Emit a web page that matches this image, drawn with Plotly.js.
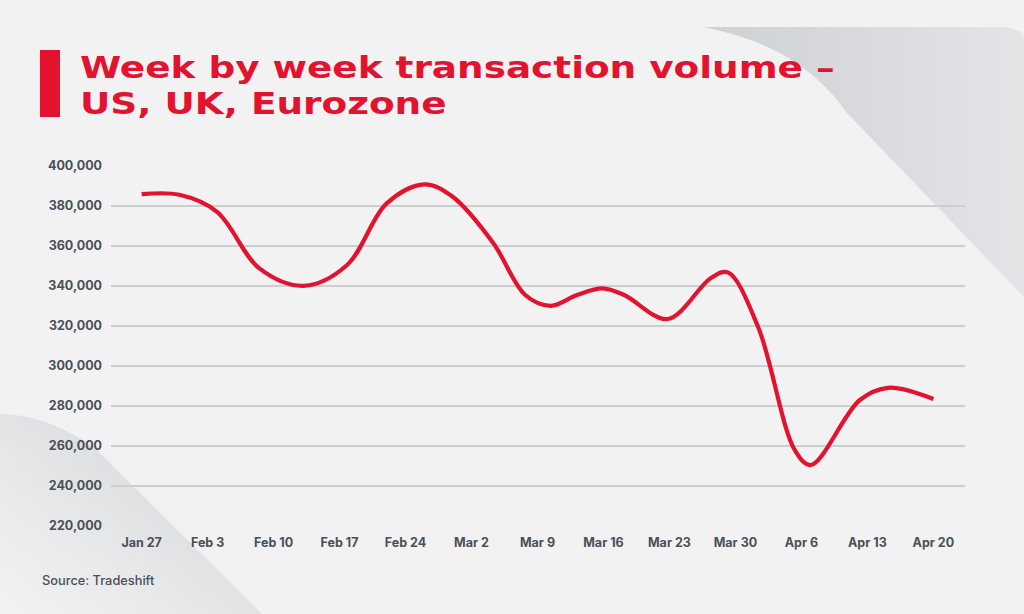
<!DOCTYPE html>
<html>
<head>
<meta charset="utf-8">
<script src="https://cdn.plot.ly/plotly-3.0.1.min.js"></script>
<style>
  html, body { margin: 0; padding: 0; background: #f1f2f1; }
  #wrap { position: relative; width: 1024px; height: 614px; overflow: hidden; }
  #bg { position: absolute; left: 0; top: 0; }
  #chart { position: absolute; left: 0; top: 0; width: 1024px; height: 614px; }
</style>
</head>
<body>
<div id="wrap">
  <svg id="bg" width="1024" height="614" viewBox="0 0 1024 614">
    <defs>
      <linearGradient id="gTR" x1="0" y1="0" x2="1" y2="0">
        <stop offset="0" stop-color="#cdd0d5"/>
        <stop offset="1" stop-color="#e3e4e6"/>
      </linearGradient>
      <linearGradient id="gBL" x1="1" y1="0" x2="0" y2="1">
        <stop offset="0" stop-color="#d0d2d7"/>
        <stop offset="0.7" stop-color="#e9eaeb"/>
        <stop offset="1" stop-color="#f1f2f1"/>
      </linearGradient>
    </defs>
    <path d="M703 27 L995 27 Q1024 27 1024 40 L1024 297 L847 113 Q800 45 703 27 Z" fill="url(#gTR)"/>
    <path d="M0 414 Q40 414 83 440 Q100 452 110 463 L262 614 L0 614 Z" fill="url(#gBL)"/>
  </svg>
  <div id="chart"></div>
</div>
<script>
// Days since Jan 27 and transaction volume
var days = [0, 4, 8, 12.5, 17.2, 21.8, 26, 30, 33, 37.3, 40.7, 43.4, 46.2, 48.9, 51.2, 55.8, 60.4, 62.2, 65.4, 69.3, 71, 76.2, 79.2, 84];
var volume = [385900, 385600, 377100, 348800, 340100, 350500, 381300, 390800, 384600, 361500, 335500, 330100, 335500, 338800, 335500, 323500, 344000, 346800, 319600, 258000, 250500, 283000, 289100, 283500];

var tickDays = [0, 7, 14, 21, 28, 35, 42, 49, 56, 63, 70, 77, 84];
var tickLabels = ["Jan 27", "Feb 3", "Feb 10", "Feb 17", "Feb 24", "Mar 2", "Mar 9", "Mar 16", "Mar 23", "Mar 30", "Apr 6", "Apr 13", "Apr 20"];
var yTicks = [220000, 240000, 260000, 280000, 300000, 320000, 340000, 360000, 380000, 400000];
var yLabels = ["220,000", "240,000", "260,000", "280,000", "300,000", "320,000", "340,000", "360,000", "380,000", "400,000"];

var titleText = "Week by week transaction volume –<br>US, UK, Eurozone";
var sourceText = "Source: Tradeshift";

var red = "#e3122f";
var tickFont = {family: "Inter, 'Open Sans', sans-serif", size: 12.5, color: "#4a4f58", weight: 700};

var trace = {
  x: days,
  y: volume,
  type: "scatter",
  mode: "lines",
  line: {color: red, width: 4.2, shape: "spline", smoothing: 1},
  hoverinfo: "skip"
};

var layout = {
  width: 1024,
  height: 614,
  paper_bgcolor: "rgba(0,0,0,0)",
  plot_bgcolor: "rgba(0,0,0,0)",
  margin: {l: 111, r: 59, t: 165, b: 87},
  showlegend: false,
  title: {
    text: titleText,
    font: {family: "'DejaVu Sans', sans-serif", size: 30, color: red, weight: 700},
    xref: "container", yref: "container",
    x: 80 / 1024, xanchor: "left",
    y: 1 - 78 / 614, yanchor: "top"
  },
  xaxis: {
    type: "linear",
    range: [-3.25, 87.36],
    tickmode: "array",
    tickvals: tickDays,
    ticktext: tickLabels,
    showgrid: false,
    zeroline: false,
    showline: false,
    ticks: "",
    ticklabelstandoff: 6,
    tickfont: tickFont,
    fixedrange: true
  },
  yaxis: {
    range: [219500, 400500],
    tickmode: "array",
    tickvals: yTicks,
    ticktext: yLabels,
    showgrid: true,
    gridcolor: "#cdcecf",
    gridwidth: 1.5,
    zeroline: false,
    showline: false,
    ticks: "",
    ticklabelstandoff: 8,
    tickfont: tickFont,
    fixedrange: true
  },
  shapes: [
    {type: "rect", xref: "paper", yref: "paper",
     x0: (40 - 111) / 854, x1: (60 - 111) / 854,
     y0: (527 - 117) / 362, y1: (527 - 50) / 362,
     fillcolor: red, line: {width: 0}, layer: "above"}
  ],
  annotations: [
    {text: sourceText, xref: "paper", yref: "paper",
     x: (40 - 111) / 854, xanchor: "left",
     y: (527 - 580) / 362, yanchor: "middle",
     showarrow: false,
     font: {family: "Inter, 'Open Sans', sans-serif", size: 12.8, color: "#4a4f58", weight: 500}}
  ]
};

Plotly.newPlot("chart", [trace], layout, {staticPlot: true, displayModeBar: false}).then(function (gd) {
  // Widen the title glyphs to resemble the extended display face of the original
  var t = gd.querySelector(".gtitle");
  if (t) {
    var lines = t.querySelectorAll("tspan.line");
    for (var i = 1; i < lines.length; i++) { lines[i].setAttribute("dy", "1.2em"); }
    var bb = t.getBBox();
    var x0 = 80;
    var sx = 755 / bb.width;
    var prev = t.getAttribute("transform") || "";
    t.setAttribute("transform", prev + " translate(" + x0 + ",0) scale(" + sx + ",1) translate(" + (-x0) + ",0)");
  }
});
</script>
</body>
</html>
